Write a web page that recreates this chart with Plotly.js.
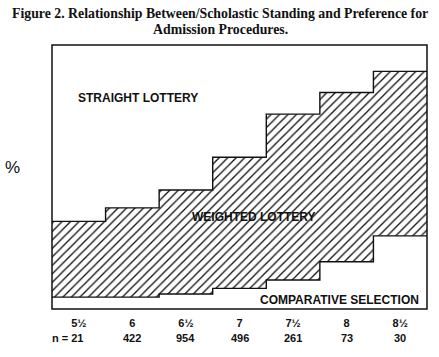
<!DOCTYPE html>
<html>
<head>
<meta charset="utf-8">
<script src="https://cdn.plot.ly/plotly-3.0.1.min.js"></script>
<style>html,body{margin:0;padding:0;background:#fff;}#chart{width:439px;height:357px;}</style>
</head>
<body>
<div id="chart"></div>
<script>
// Scholastic standing categories
const categories = ['5½', '6', '6½', '7', '7½', '8', '8½'];
// Number of respondents per category
const nValues = [21, 422, 954, 496, 261, 73, 30];
// Percent preferring each procedure (stacked bottom to top)
const comparative = [4.5, 4.5, 5.7, 7.8, 11.0, 17.9, 27.7];
const weighted = [28.7, 33.8, 39.4, 49.7, 62.8, 64.1, 62.3];
const straight = [66.8, 61.7, 54.9, 42.5, 26.2, 18.0, 10.0];

// Column edges for step traces
const edges = categories.map((c, i) => i).concat([categories.length]);
const centers = categories.map((c, i) => i + 0.5);
const stepY = arr => arr.concat([arr[arr.length - 1]]);
const lower = comparative.slice();
const upper = comparative.map((v, i) => v + weighted[i]);

const traces = [
  {
    x: edges, y: stepY(lower), type: 'scatter', mode: 'lines',
    line: {shape: 'hv', color: '#111', width: 1.4},
    fill: 'tozeroy', fillcolor: '#ffffff', hoverinfo: 'skip'
  },
  {
    x: edges, y: stepY(upper), type: 'scatter', mode: 'lines',
    line: {shape: 'hv', color: '#111', width: 1.4},
    fill: 'tonexty',
    fillpattern: {shape: '/', fgcolor: '#111', bgcolor: '#ffffff', size: 6, solidity: 0.22},
    hoverinfo: 'skip'
  }
];

const fontSans = 'Liberation Sans, Arial, sans-serif';
const fontSerif = 'Liberation Serif, Times New Roman, serif';
const annotations = [
  {text: '<b>STRAIGHT LOTTERY</b>', x: 1.61, y: 79.9, xref: 'x', yref: 'y', showarrow: false,
   font: {family: fontSans, size: 12, color: '#111'}},
  {text: '<b>WEIGHTED LOTTERY</b>', x: 3.77, y: 34.9, xref: 'x', yref: 'y', showarrow: false,
   font: {family: fontSans, size: 12, color: '#111'}},
  {text: '<b>COMPARATIVE SELECTION</b>', x: 6.89, y: 3.4, xref: 'x', yref: 'y', xanchor: 'right', showarrow: false,
   font: {family: fontSans, size: 12, color: '#111'}},
  {text: '%', x: -0.13, y: 0.535, xref: 'paper', yref: 'paper', showarrow: false,
   font: {family: fontSans, size: 17, color: '#111'}},
  {text: '<b>Figure 2. Relationship Between/Scholastic Standing and Preference for</b>',
   x: 0.448, y: 1.121, xref: 'paper', yref: 'paper', xanchor: 'center', yanchor: 'middle',
   showarrow: false, font: {family: fontSerif, size: 13.8, color: '#111'}},
  {text: '<b>Admission Procedures.</b>',
   x: 0.448, y: 1.057, xref: 'paper', yref: 'paper', xanchor: 'center', yanchor: 'middle',
   showarrow: false, font: {family: fontSerif, size: 13.8, color: '#111'}}
];
nValues.forEach((n, i) => {
  annotations.push({
    text: '<b>' + (i === 0 ? 'n = ' + n : String(n)) + '</b>',
    x: centers[i], y: 0, xref: 'x', yref: 'paper', yanchor: 'middle', yshift: -29,
    xshift: i === 0 ? -11 : 0,
    showarrow: false, font: {family: fontSans, size: 11, color: '#111'}
  });
});

const layout = {
  width: 439, height: 357,
  margin: {l: 52, r: 12, t: 45, b: 48},
  paper_bgcolor: '#fff', plot_bgcolor: '#fff',
  showlegend: false,
  xaxis: {
    range: [0, 7], showgrid: false, zeroline: false, ticks: '',
    tickvals: centers, ticktext: categories.map(c => '<b>' + c + '</b>'),
    tickfont: {family: fontSans, size: 11, color: '#111'},
    ticklabelstandoff: 6,
    showline: false, fixedrange: true
  },
  yaxis: {
    range: [0, 100], showgrid: false, zeroline: false, showticklabels: false, ticks: '',
    showline: false, fixedrange: true
  },
  shapes: [{type: 'rect', xref: 'paper', yref: 'paper', x0: 0, x1: 1, y0: 0, y1: 1,
            line: {color: '#111', width: 1.5}, layer: 'above'}],
  annotations: annotations
};

Plotly.newPlot('chart', traces, layout, {staticPlot: true, displayModeBar: false});
</script>
</body>
</html>
